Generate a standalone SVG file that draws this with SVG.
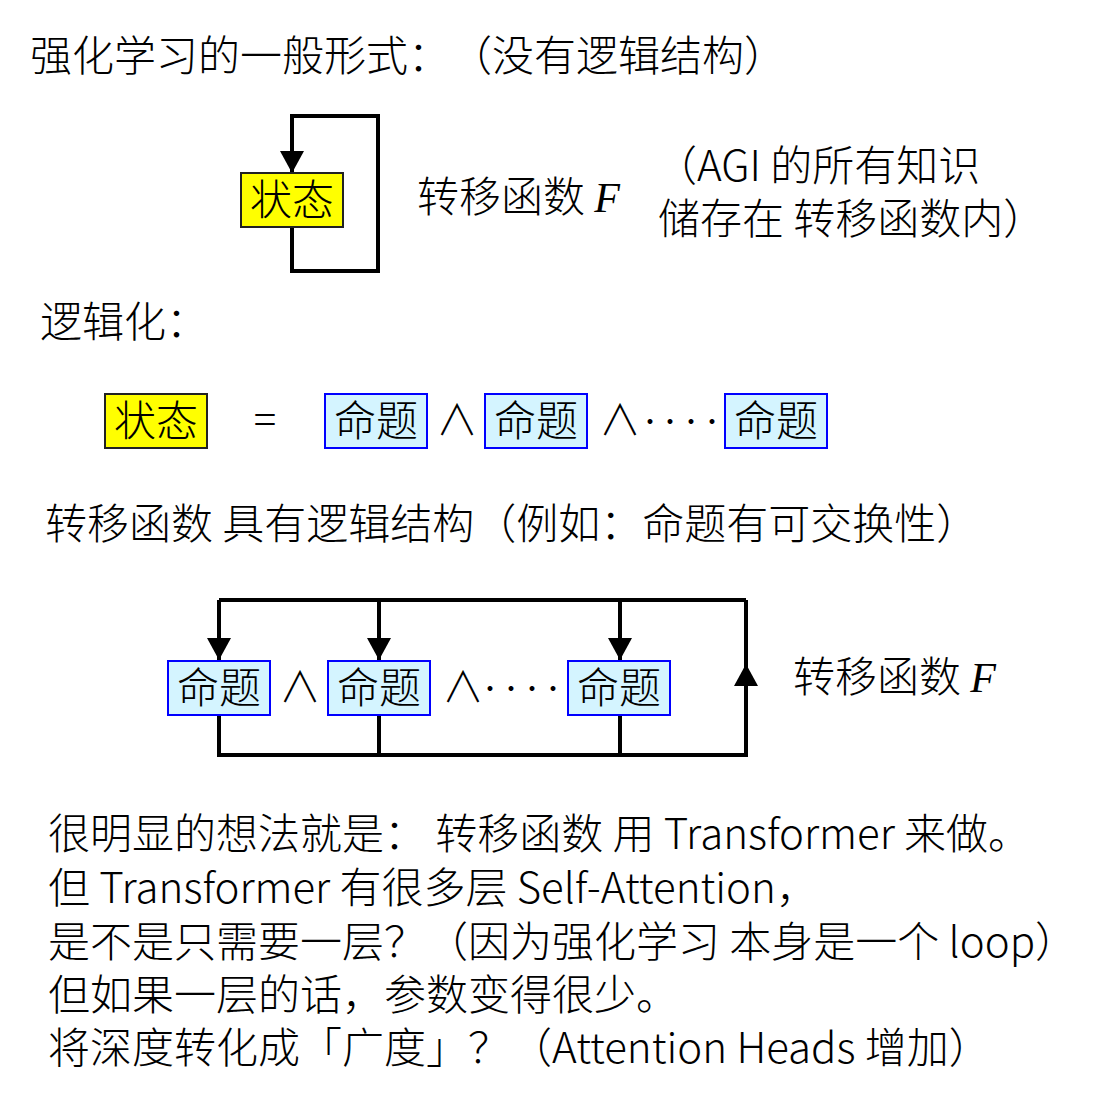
<svg xmlns="http://www.w3.org/2000/svg" width="1095" height="1116" viewBox="0 0 1095 1116">
<style>
text{font-family:"Noto Sans CJK SC Light","Noto Sans CJK SC DemiLight","Noto Sans CJK SC","Noto Sans",sans-serif;font-weight:300;font-size:42px;fill:#000;text-spacing-trim:space-all}
.f{font-family:"Liberation Serif",serif;font-style:italic;font-weight:400;font-size:42px}
.d{font-size:26px}
.st{fill:#ffff00;stroke:#222;stroke-width:2}
.pr{fill:#d4f4ff;stroke:#0000ff;stroke-width:2}
.ln{fill:none;stroke:#000;stroke-width:4}
.c{text-anchor:middle}
</style>
<defs>
<marker id="ah" markerUnits="userSpaceOnUse" viewBox="0 0 22 24" refX="22" refY="12" markerWidth="22" markerHeight="24" orient="auto">
<path d="M0,0 L22,12 L0,24 Z" fill="#000"/>
</marker>
</defs>
<rect width="1095" height="1116" fill="#fff"/>

<text x="30" y="71">强化学习的一般形式：（没有逻辑结构）</text>

<g id="connectors">
<path class="ln" d="M292,227 V271 H378 V116 H292 V173" marker-end="url(#ah)"/>
<path class="ln" d="M219,600 H746"/>
<path class="ln" d="M219,600 V660" marker-end="url(#ah)"/>
<path class="ln" d="M379,600 V660" marker-end="url(#ah)"/>
<path class="ln" d="M620,600 V660" marker-end="url(#ah)"/>
<path class="ln" d="M219,715 V755 H746 V600"/>
<path class="ln" d="M379,715 V755"/>
<path class="ln" d="M620,715 V755"/>
<path class="ln" d="M746,720 V664" marker-end="url(#ah)"/>
</g>

<g id="state1"><rect class="st" x="241" y="173" width="102" height="54"/><text class="c" x="292" y="215">状态</text></g>
<text x="417" y="212">转移函数 <tspan class="f">F</tspan></text>
<text x="655" y="181">（AGI 的所有知识</text>
<text x="658" y="234">储存在 转移函数内）</text>

<text x="40" y="337">逻辑化：</text>

<g id="state2"><rect class="st" x="105" y="394" width="102" height="54"/><text class="c" x="156" y="436">状态</text></g>
<text class="c" x="265" y="435">=</text>
<g id="p1"><rect class="pr" x="325" y="394" width="102" height="54"/><text class="c" x="376" y="436">命题</text></g>
<text class="c" x="457" y="435">∧</text>
<g id="p2"><rect class="pr" x="485" y="394" width="102" height="54"/><text class="c" x="536" y="436">命题</text></g>
<text class="c" x="620" y="435">∧</text>
<text class="c d" x="650 670 691 712" y="431">····</text>
<g id="p3"><rect class="pr" x="725" y="394" width="102" height="54"/><text class="c" x="776" y="436">命题</text></g>

<text x="45" y="539">转移函数 具有逻辑结构（例如：命题有可交换性）</text>

<g id="q1"><rect class="pr" x="168" y="661" width="102" height="54"/><text class="c" x="219" y="703">命题</text></g>
<text class="c" x="300" y="702">∧</text>
<g id="q2"><rect class="pr" x="328" y="661" width="102" height="54"/><text class="c" x="379" y="703">命题</text></g>
<text class="c" x="463" y="702">∧</text>
<text class="c d" x="490 511 532 553" y="698">····</text>
<g id="q3"><rect class="pr" x="568" y="661" width="102" height="54"/><text class="c" x="619" y="703">命题</text></g>
<text x="793" y="692">转移函数 <tspan class="f">F</tspan></text>

<text x="48" y="849">很明显的想法就是： 转移函数 用 Transformer 来做。</text>
<text x="48" y="903">但 Transformer 有很多层 Self-Attention，</text>
<text x="48" y="957">是不是只需要一层？（因为强化学习 本身是一个 loop）</text>
<text x="48" y="1010">但如果一层的话，参数变得很少。</text>
<text x="48" y="1063">将深度转化成「广度」？（Attention Heads 增加）</text>
</svg>
